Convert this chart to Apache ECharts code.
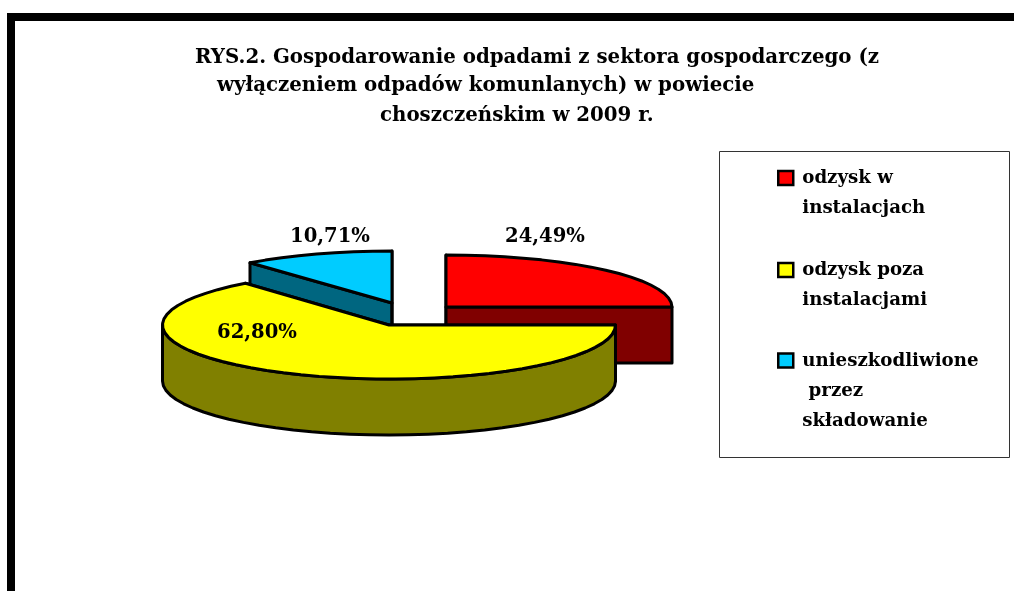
<!DOCTYPE html>
<html>
<head>
<meta charset="utf-8">
<style>html,body{margin:0;padding:0;background:#fff}#c{width:1014px;height:591px}</style>
<script src="https://cdn.jsdelivr.net/npm/echarts@6/dist/echarts.min.js"></script>
</head>
<body>
<div id="c"></div>
<script>
const titleLines = [
  'RYS.2. Gospodarowanie odpadami z sektora gospodarczego (z',
  'wyłączeniem odpadów komunlanych) w powiecie',
  'choszczeńskim w 2009 r.'
];
const categories = ['odzysk w\ninstalacjach', 'odzysk poza\ninstalacjami', 'unieszkodliwione\n przez\nskładowanie'];
const shares = [24.49, 62.80, 10.71];
const valueLabels = ['24,49%', '62,80%', '10,71%'];

const topColors = ['#ff0000', '#ffff00', '#00ccff'];
const sideColors = ['#800000', '#808000', '#006680'];
const FONT = '"DejaVu Serif", serif';
const sliceLayout = [
  {cx: 446, cy: 307, rx: 226, ry: 52, labelX: 545, labelY: 237, z: 1},
  {cx: 389, cy: 325, rx: 226.5, ry: 54, labelX: 257, labelY: 333, z: 3},
  {cx: 392, cy: 303, rx: 224, ry: 52, labelX: 330, labelY: 237, z: 2}
];
const DEPTH = 56;
const total = shares.reduce((a, b) => a + b, 0);

function makeRender(i) {
  return function (params, api) {
    const value = api.value(0);
    const before = shares.slice(0, i).reduce((a, b) => a + b, 0);
    const a0 = before / total * 360;
    const a1 = a0 + value / total * 360;
    const L = sliceLayout[i];
    const pt = (deg, dz) => {
      const r = deg * Math.PI / 180;
      return [L.cx + L.rx * Math.sin(r), L.cy - L.ry * Math.cos(r) + (dz || 0)];
    };
    const arc = (from, to, dz) => {
      const n = Math.max(2, Math.ceil((to - from) / 5));
      const out = [];
      for (let k = 0; k <= n; k++) out.push(pt(from + (to - from) * k / n, dz));
      return out;
    };
    const stroke = {stroke: '#000', lineWidth: 3, lineJoin: 'round'};
    const side = Object.assign({fill: sideColors[i]}, stroke);
    const top = Object.assign({fill: topColors[i]}, stroke);
    const apex = [L.cx, L.cy], apexLow = [L.cx, L.cy + DEPTH];
    const children = [];
    [a0, a1].forEach(a => children.push({
      type: 'polygon',
      shape: {points: [apex, pt(a), pt(a, DEPTH), apexLow]},
      style: side
    }));
    const wFrom = Math.max(a0, 90), wTo = Math.min(a1, 270);
    if (wTo > wFrom) {
      children.push({
        type: 'polygon',
        shape: {points: arc(wFrom, wTo, 0).concat(arc(wFrom, wTo, DEPTH).reverse())},
        style: side
      });
    }
    children.push({
      type: 'polygon',
      shape: {points: [apex].concat(arc(a0, a1, 0))},
      style: top
    });
    children.push({
      type: 'text',
      style: {
        text: valueLabels[i], x: L.labelX, y: L.labelY,
        align: 'center', verticalAlign: 'middle',
        font: 'bold 19.6px ' + FONT, fill: '#000'
      }
    });
    return {type: 'group', children};
  };
}

const iconFor = h => 'path://M0,0H15V14H0Z M19,' + h + 'L19,' + h;
const legendLayout = [{top: 163, h: 44}, {top: 255, h: 44}, {top: 346, h: 75}];

const chart = echarts.init(document.getElementById('c'), null, {renderer: 'canvas'});
chart.setOption({
  animation: false,
  backgroundColor: '#fff',
  title: [
    {text: titleLines[0], left: 195, top: 48},
    {text: titleLines[1], left: 217, top: 76},
    {text: titleLines[2], left: 380, top: 106}
  ].map(t => Object.assign(t, {padding: 0, textStyle: {fontFamily: FONT, fontWeight: 'bold', fontSize: 19.8, color: '#000'}})),
  legend: categories.map((name, i) => ({
    left: 777, top: legendLayout[i].top, padding: 0,
    orient: 'vertical', selectedMode: false,
    itemWidth: 19, itemHeight: legendLayout[i].h,
    textStyle: {fontFamily: FONT, fontWeight: 'bold', fontSize: 18.2, lineHeight: 30, color: '#000'},
    data: [{name, icon: iconFor(legendLayout[i].h), itemStyle: {color: topColors[i], borderColor: '#000', borderWidth: 2.5}}]
  })),
  graphic: [
    {type: 'rect', shape: {x: 7, y: 13, width: 1007, height: 8}, style: {fill: '#000'}},
    {type: 'rect', shape: {x: 7, y: 13, width: 8, height: 578}, style: {fill: '#000'}},
    {type: 'rect', z: -1, shape: {x: 719.5, y: 151.5, width: 290, height: 306}, style: {fill: '#fff', stroke: '#333', lineWidth: 1}}
  ],
  series: categories.map((name, i) => ({
    type: 'custom',
    name,
    coordinateSystem: 'none',
    z: 2 + sliceLayout[i].z,
    silent: true,
    itemStyle: {color: topColors[i]},
    renderItem: makeRender(i),
    data: [[shares[i]]]
  }))
});
</script>
</body>
</html>
